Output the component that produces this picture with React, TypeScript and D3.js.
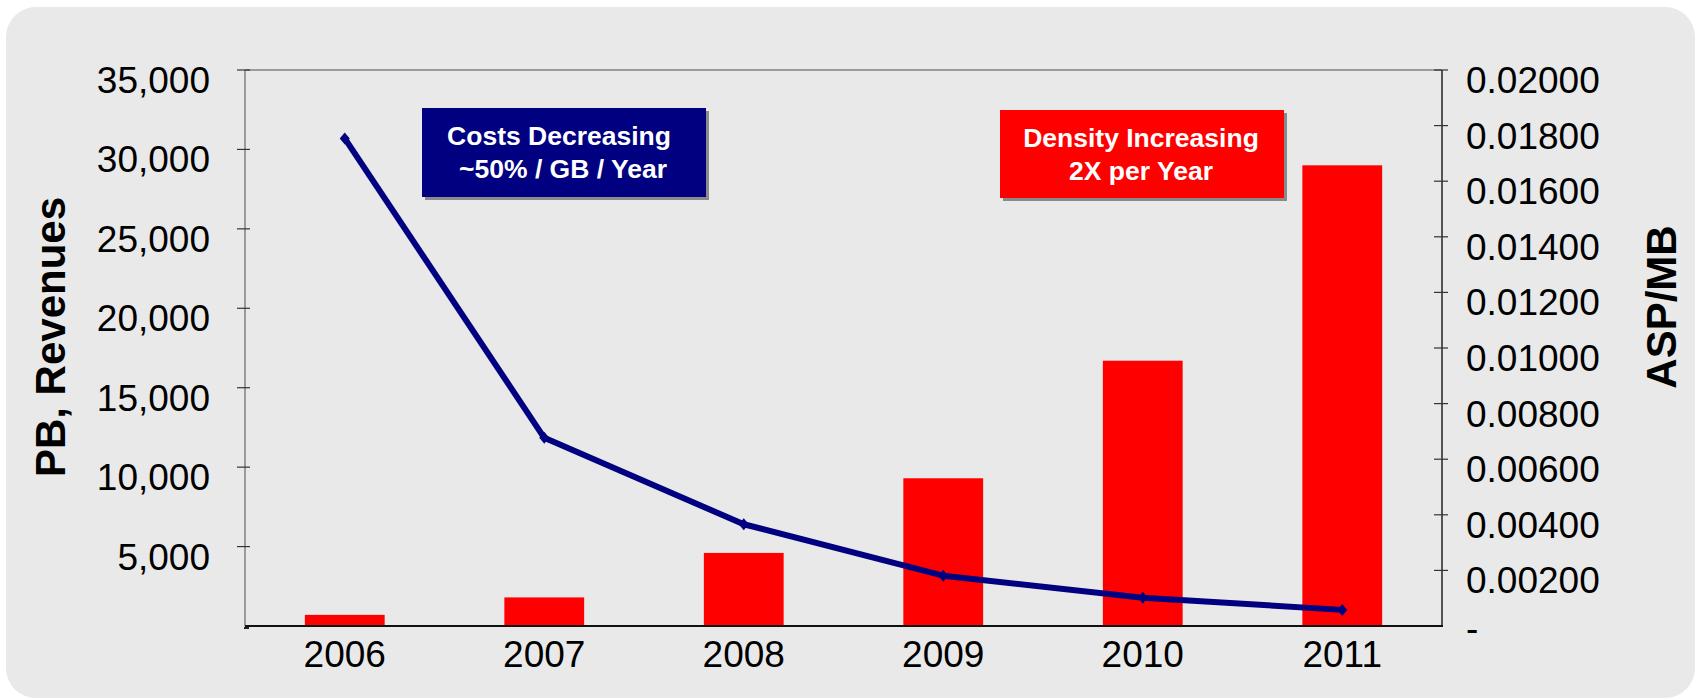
import React from "react";
import * as d3 from "d3";

const categories = ["2006", "2007", "2008", "2009", "2010", "2011"];
const pbRevenues = [700, 1800, 4600, 9300, 16700, 29000];
const aspPerMB = [0.01754, 0.00677, 0.00366, 0.00181, 0.00102, 0.00058];
const leftTicks = [0, 5000, 10000, 15000, 20000, 25000, 30000, 35000];
const rightTicks = [0, 0.002, 0.004, 0.006, 0.008, 0.01, 0.012, 0.014, 0.016, 0.018, 0.02];
const leftTitle = "PB, Revenues";
const rightTitle = "ASP/MB";
const costsNote = ["Costs Decreasing", "~50% / GB / Year"];
const densityNote = ["Density Increasing", "2X per Year"];

const W = 1698;
const H = 699;
const FONT = "'Liberation Sans', Arial, Helvetica, sans-serif";

export default function App() {
  const left = 245;
  const right = 1442;
  const top = 70;
  const bottom = 626;

  const x = d3
    .scaleBand<string>()
    .domain(categories)
    .range([left, right])
    .paddingInner(0.6)
    .paddingOuter(0.3);
  const yL = d3.scaleLinear().domain([0, 35000]).range([bottom, top]);
  const yR = d3.scaleLinear().domain([0, 0.02]).range([bottom, top]);

  const fmtL = d3.format(",");
  const fmtR = d3.format(".5f");

  const cx = (c: string) => (x(c) as number) + x.bandwidth() / 2;
  const lineGen = d3
    .line<number>()
    .x((_, i) => cx(categories[i]))
    .y((d) => yR(d));

  const noteBox = (
    lines: string[],
    bx: number,
    by: number,
    bw: number,
    bh: number,
    fill: string,
    tx: number[]
  ) => (
    <g>
      <rect x={bx + 3} y={by + 3} width={bw} height={bh} fill="#8a8a8a" />
      <rect x={bx} y={by} width={bw} height={bh} fill={fill} />
      {lines.map((t, i) => (
        <text
          key={i}
          x={tx[i]}
          y={by + 37 + i * 33}
          textAnchor="middle"
          fill="#ffffff"
          fontWeight="bold"
          fontSize={26.5}
          fontFamily={FONT}
        >
          {t}
        </text>
      ))}
    </g>
  );

  return (
    <svg
      width={W}
      height={H}
      style={{ position: "absolute", left: 0, top: 0, display: "block" }}
    >
      <rect x={0} y={0} width={W} height={H} fill="#ffffff" />
      <rect x={6} y={7} width={1689} height={691} rx={30} ry={30} fill="#e9e9e9" />

      {/* bars */}
      {pbRevenues.map((v, i) => (
        <rect
          key={categories[i]}
          x={x(categories[i])}
          y={yL(v)}
          width={x.bandwidth()}
          height={bottom - yL(v)}
          fill="#ff0000"
        />
      ))}

      {/* frame */}
      <line x1={left} x2={right} y1={top} y2={top} stroke="#808080" strokeWidth={1.5} />
      <line x1={left} x2={left} y1={top} y2={bottom} stroke="#808080" strokeWidth={1.5} />
      <line x1={right} x2={right} y1={top} y2={bottom} stroke="#222" strokeWidth={1.5} />
      <line x1={left} x2={right + 1} y1={bottom} y2={bottom} stroke="#111" strokeWidth={2} />

      {/* left ticks */}
      {leftTicks.map((t) =>
        t === 0 ? (
          <line key={t} x1={left - 1} x2={left + 4} y1={bottom + 2} y2={bottom + 2} stroke="#222" strokeWidth={2} />
        ) : (
          <g key={t}>
            <line x1={left - 8} x2={left + 5} y1={yL(t)} y2={yL(t)} stroke="#333" strokeWidth={1.2} />
            <text
              x={210}
              y={yL(t) + 23}
              textAnchor="end"
              fontSize={37}
              fontFamily={FONT}
              fill="#000"
            >
              {fmtL(t)}
            </text>
          </g>
        )
      )}

      {/* right ticks */}
      {rightTicks.map((t) => (
        <g key={t}>
          {t !== 0 && (
            <line x1={right - 8} x2={right + 6} y1={yR(t)} y2={yR(t)} stroke="#333" strokeWidth={1.2} />
          )}
          <text
            x={1466}
            y={yR(t) + (t === 0 ? 15 : 23)}
            textAnchor="start"
            fontSize={37}
            fontFamily={FONT}
            fill="#000"
          >
            {t === 0 ? "-" : fmtR(t)}
          </text>
        </g>
      ))}

      {/* x labels */}
      {categories.map((c) => (
        <text
          key={c}
          x={cx(c)}
          y={667}
          textAnchor="middle"
          fontSize={37}
          fontFamily={FONT}
          fill="#000"
        >
          {c}
        </text>
      ))}

      {/* line */}
      <path
        d={lineGen(aspPerMB) || ""}
        fill="none"
        stroke="#000080"
        strokeWidth={6}
        strokeLinejoin="round"
      />
      {aspPerMB.map((v, i) => {
        const px = cx(categories[i]);
        const py = yR(v);
        return (
          <path
            key={i}
            d={`M${px - 5},${py} L${px},${py - 6} L${px + 5},${py} L${px},${py + 6} Z`}
            fill="#000080"
          />
        );
      })}

      {/* axis titles */}
      <text
        transform={`translate(65,337) rotate(-90)`}
        textAnchor="middle"
        fontSize={42}
        fontWeight="bold"
        fontFamily={FONT}
        fill="#000"
      >
        {leftTitle}
      </text>
      <text
        transform={`translate(1676,307) rotate(-90)`}
        textAnchor="middle"
        fontSize={42}
        fontWeight="bold"
        fontFamily={FONT}
        fill="#000"
      >
        {rightTitle}
      </text>

      {/* annotations */}
      {noteBox(costsNote, 422, 108, 284, 89, "#000080", [559, 563])}
      {noteBox(densityNote, 1000, 110, 284, 88, "#ff0000", [1141, 1141])}
    </svg>
  );
}
